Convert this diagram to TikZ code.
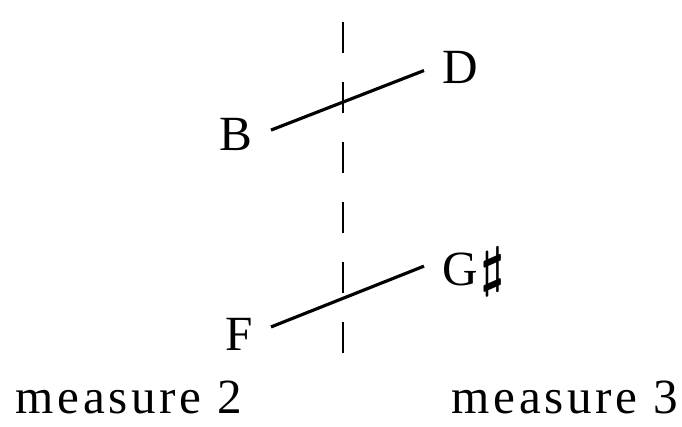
\documentclass[tikz,border=0pt]{standalone}
\usepackage{fontspec}
\setmainfont{Liberation Serif}
\usetikzlibrary{positioning}
\newcommand{\bigsharp}{\kern1.5pt\raisebox{-0.5pt}{\scalebox{1.25}{\boldmath$\sharp$}}}
\tikzset{
  note/.style={font=\fontsize{28}{30}\selectfont, inner sep=0.36cm,
               text height=18.5pt, text depth=0pt},
  caption/.style={font=\fontsize{28}{30}\selectfont\addfontfeature{LetterSpace=7.5},
                  inner sep=0pt, anchor=base},
  tie/.style={black, line width=1.8pt},
  barline/.style={black, line width=1.7pt, dash pattern=on 0.62cm off 0.58cm},
}
\begin{document}
\begin{tikzpicture}[x=0.02cm,y=-0.02cm]
  \path[use as bounding box] (0,0) rectangle (682,426);

  % bar line between the two measures
  \coordinate (bartop) at (343,22);
  \coordinate (barbot) at (343,357);
  \draw[barline] (bartop) -- (barbot);

  \node[note, anchor=base east] (B) at (271,150) {B};
  \node[note, anchor=base west] (D) at (424,83) {D};
  \node[note, anchor=base east] (F) at (271,350) {F};
  \node[note, anchor=base west] (Gs) at (424,285) {G\bigsharp};
  \draw[tie] (B.6) -- (D.186);
  \draw[tie] (F.12) -- (Gs.177);

  \node[caption] (m2) at (129,413) {measure 2};
  \node[caption] (m3) at (565,413) {measure 3};
\end{tikzpicture}
\end{document}
